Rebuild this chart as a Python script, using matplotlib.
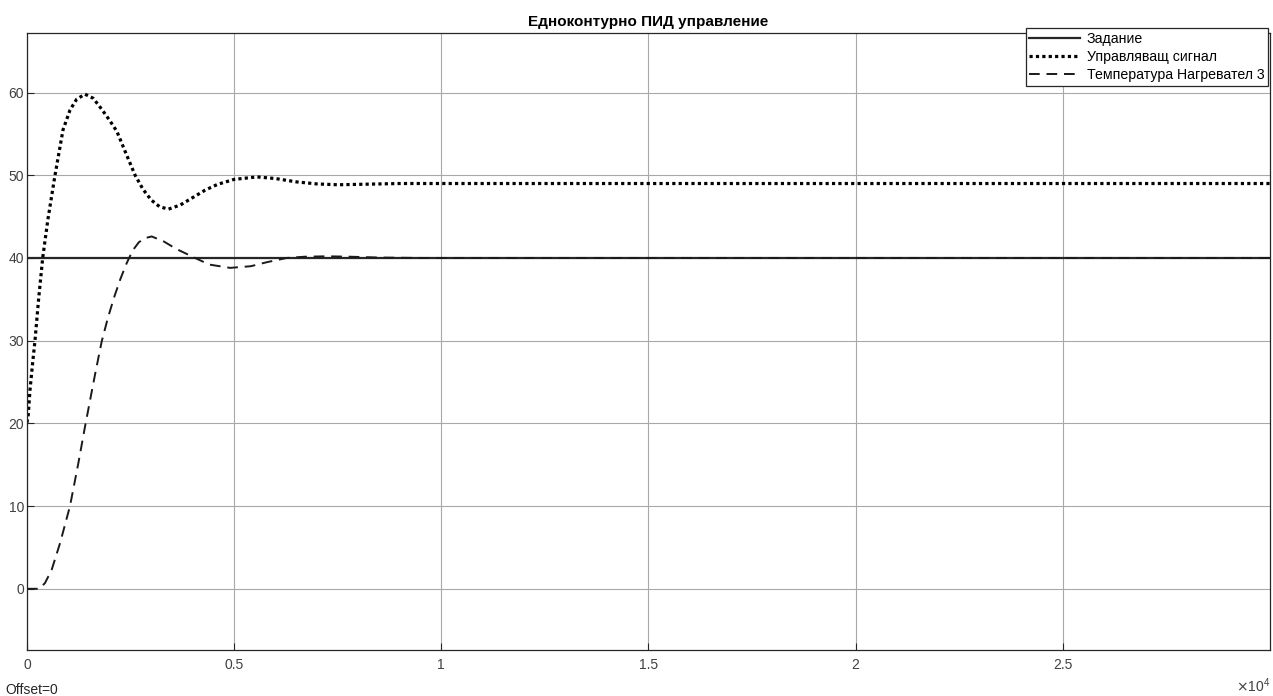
import matplotlib
matplotlib.use("Agg")
import matplotlib.pyplot as plt
from matplotlib.ticker import FixedLocator, FixedFormatter

plt.rcParams['font.family'] = ['Liberation Sans', 'DejaVu Sans']

# setpoint
setpoint_t = [0, 30000]
setpoint_v = [40, 40]

# control signal
control_t = [0, 30, 72, 130, 193, 280, 379, 500, 676, 870, 1040, 1200, 1400,
             1600, 1800, 2000, 2170, 2400, 2610, 2800, 3000, 3200, 3413, 3700,
             4000, 4300, 4600, 5000, 5550, 6000, 6500, 7000, 7500, 8000, 8500,
             9000, 30000]
control_v = [20.1, 21.0, 24.0, 27.0, 30.0, 35.0, 40.0, 44.5, 50.0, 55.5, 57.9,
             59.2, 59.8, 59.3, 58.0, 56.6, 55.3, 52.5, 50.0, 48.3, 47.0, 46.2,
             45.9, 46.4, 47.3, 48.2, 48.9, 49.5, 49.8, 49.6, 49.2, 48.95, 48.85,
             48.9, 48.95, 49.0, 49.0]

# heater 3 temperature
temp_t = [0, 300, 435, 596, 797, 1038, 1240, 1400, 1642, 1803, 1950, 2100,
          2250, 2400, 2550, 2700, 2850, 3011, 3300, 3600, 4057, 4400, 4903,
          5400, 5800, 6271, 6700, 7237, 7800, 8500, 9500, 30000]
temp_v = [0, 0, 0.7, 2.3, 5.5, 10.0, 15.2, 19.6, 25.9, 29.9, 32.7, 35.2,
          37.4, 39.3, 40.9, 41.9, 42.4, 42.6, 42.0, 41.1, 40.0, 39.2, 38.8,
          39.0, 39.5, 40.0, 40.15, 40.2, 40.15, 40.05, 40.0, 40.0]

labels = ['Задание', 'Управляващ сигнал', 'Температура Нагревател 3']
x_ticks = [0, 5000, 10000, 15000, 20000, 25000]
x_tick_labels = ['0', '0.5', '1', '1.5', '2', '2.5']
y_ticks = [0, 10, 20, 30, 40, 50, 60]

fig = plt.figure(figsize=(12.73, 6.96), dpi=100)
ax = fig.add_axes([0.0212, 0.0661, 0.9764, 0.8865])

ax.plot(setpoint_t, setpoint_v, color='#262626', lw=1.6, label=labels[0])
ax.plot(control_t, control_v, color='black', lw=2.3, linestyle=(0, (1, 1)),
        label=labels[1])
ax.plot(temp_t, temp_v, color='#1a1a1a', lw=1.4, linestyle=(0, (5.5, 3.5)),
        label=labels[2])

ax.set_xlim(0, 30000)
ax.set_ylim(-7.4, 67.2)
ax.xaxis.set_major_locator(FixedLocator(x_ticks))
ax.xaxis.set_major_formatter(FixedFormatter(x_tick_labels))
ax.set_yticks(y_ticks)
ax.grid(True, color='#a8a8a8', lw=0.8)
ax.set_axisbelow(True)
ax.tick_params(direction='in', length=5, width=0.8, colors='#262626',
               labelcolor='#404040', labelsize=10, pad=6)
ax.tick_params(axis='y', pad=2)
for sp in ax.spines.values():
    sp.set_color('#262626')
    sp.set_linewidth(0.9)

ax.set_title('Едноконтурно ПИД управление', fontsize=11, fontweight='bold',
             pad=5)

leg = ax.legend(loc='upper right', bbox_to_anchor=(1268 / 1273, 1 - 28 / 696),
                bbox_transform=fig.transFigure, fontsize=10.2,
                handlelength=3.6, handletextpad=0.45, labelspacing=0.3,
                borderpad=0.25, borderaxespad=0, fancybox=False, framealpha=1)
leg.get_frame().set_edgecolor('#262626')
leg.get_frame().set_linewidth(0.9)

fig.text(5 / 1273, 1 - 690 / 696, 'Offset=0', fontsize=10, color='#262626',
         va='center', ha='left')
fig.text(1270 / 1273, 1 - 686 / 696, r'$\times\mathdefault{10^{4}}$',
         fontsize=10, color='#404040', va='center', ha='right')

fig.savefig('out.png', dpi=100)
